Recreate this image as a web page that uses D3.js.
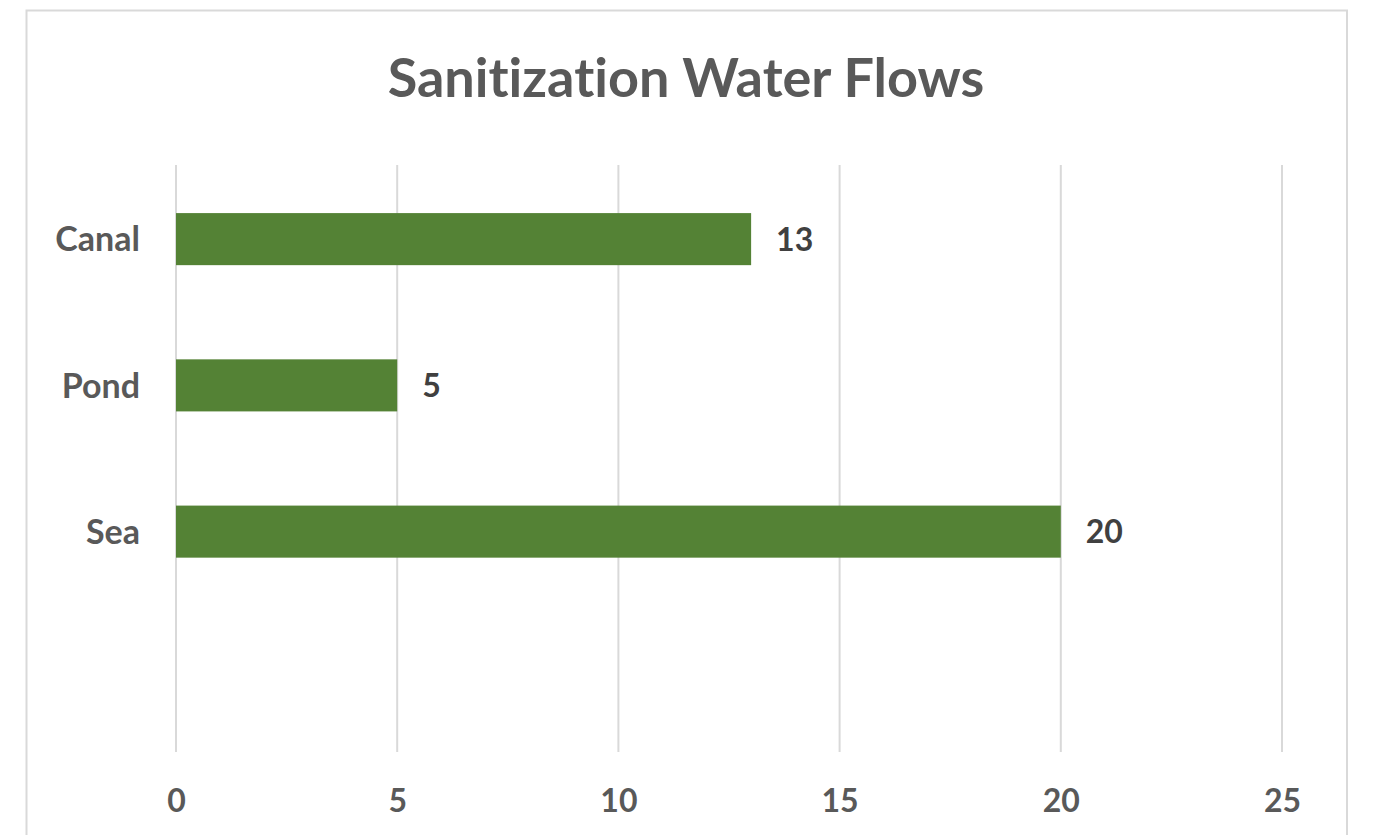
<!DOCTYPE html>
<html><head><meta charset="utf-8">
<script src="https://cdn.jsdelivr.net/npm/d3@7"></script>
<style>html,body{margin:0;padding:0;background:#fff;overflow:hidden} text{font-variant-ligatures:none}</style>
</head><body>
<svg id="chart" width="1373" height="835"></svg>
<script>
const title = "Sanitization Water Flows";
const categories = ["Canal", "Pond", "Sea"];
const values = [13, 5, 20];
const tickValues = [0, 5, 10, 15, 20, 25];

const svg = d3.select("#chart");
const font = "Lato, 'Open Sans', sans-serif";

// chart frame
svg.append("rect").attr("x", 26.5).attr("y", 10.5).attr("width", 1320.5).attr("height", 840)
  .attr("fill", "#fff").attr("stroke", "#d9d9d9").attr("stroke-width", 2);

const x = d3.scaleLinear().domain([0, 25]).range([176, 1282]);
const y = d3.scaleBand().domain(categories.concat([" "])).range([166, 751])
  .paddingInner(0.644).paddingOuter(0.322);

// gridlines
svg.append("g").selectAll("line").data(tickValues).join("line")
  .attr("x1", d => x(d)).attr("x2", d => x(d))
  .attr("y1", 165).attr("y2", 752)
  .attr("stroke", "#d9d9d9").attr("stroke-width", 2);

// x axis tick labels
const xAxis = d3.axisBottom(x).tickValues(tickValues).tickSize(0).tickPadding(0);
const gx = svg.append("g").attr("transform", "translate(0,812)").call(xAxis);
gx.select(".domain").remove();
gx.selectAll("text").attr("dy", 0).attr("y", 0)
  .attr("font-family", font).attr("font-weight", "bold").attr("font-size", 32).attr("fill", "#595959");

// y axis labels
const yAxis = d3.axisLeft(y).tickValues(categories).tickSize(0).tickPadding(0);
const gy = svg.append("g").attr("transform", "translate(140,0)").call(yAxis);
gy.select(".domain").remove();
gy.selectAll("text").attr("dy", "0.36em")
  .attr("font-family", font).attr("font-weight", "bold").attr("font-size", 34).attr("fill", "#595959");

// bars
svg.append("g").selectAll("rect").data(values).join("rect")
  .attr("x", x(0)).attr("y", (d, i) => y(categories[i]))
  .attr("width", d => x(d) - x(0)).attr("height", y.bandwidth())
  .attr("fill", "#548235");

// data labels
svg.append("g").selectAll("text").data(values).join("text")
  .attr("x", d => x(d) + 25).attr("y", (d, i) => y(categories[i]) + y.bandwidth() / 2)
  .attr("dy", "0.36em")
  .attr("font-family", font).attr("font-weight", "bold").attr("font-size", 32).attr("fill", "#404040")
  .text(d => d);

// title
svg.append("text").attr("x", 686).attr("y", 97).attr("text-anchor", "middle")
  .attr("font-family", font).attr("font-weight", "bold").attr("font-size", 54).attr("fill", "#595959")
  .text(title);
</script>
</body></html>
